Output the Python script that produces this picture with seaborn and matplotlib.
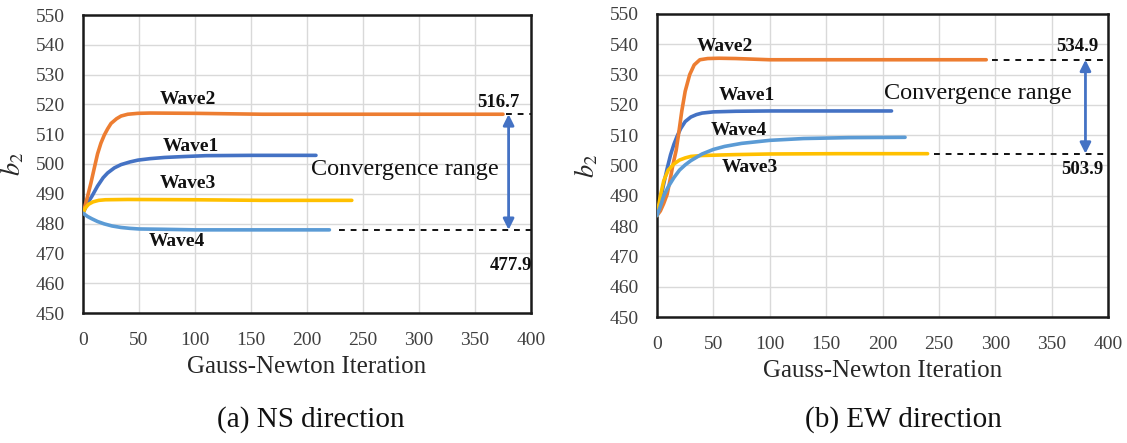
import numpy as np
import pandas as pd
import matplotlib
matplotlib.use("Agg")
import matplotlib.pyplot as plt
import seaborn as sns

# ---------------- data ----------------
waves = ["Wave1", "Wave2", "Wave3", "Wave4"]
colors = {"Wave1": "#4472C4", "Wave2": "#ED7D31", "Wave3": "#FFC000", "Wave4": "#5B9BD5"}

# (a) NS direction
ns_w1_x = [0, 4, 8, 13, 18, 22, 28, 34, 42, 49, 60, 73, 90, 110, 150, 208]
ns_w1_y = [483.5, 486.8, 489.2, 492.6, 495.4, 497.0, 498.7, 499.8, 500.7, 501.3, 501.8, 502.2, 502.5, 502.8, 502.9, 502.9]
ns_w2_x = [0, 4, 7, 10, 13, 16, 19, 22, 25, 30, 34, 40, 49, 60, 100, 160, 250, 375]
ns_w2_y = [483.5, 489.0, 493.5, 498.5, 503.4, 507.0, 509.7, 511.8, 513.6, 515.2, 516.1, 516.7, 517.0, 517.1, 517.0, 516.7, 516.7, 516.7]
ns_w3_x = [0, 2, 5, 9, 14, 20, 40, 100, 160, 240]
ns_w3_y = [483.5, 485.2, 486.5, 487.3, 487.8, 488.0, 488.1, 488.0, 487.8, 487.8]
ns_w4_x = [0, 4, 8, 13, 19, 26, 34, 42, 50, 70, 100, 150, 220]
ns_w4_y = [483.5, 482.4, 481.6, 480.7, 479.9, 479.2, 478.7, 478.4, 478.2, 478.1, 477.9, 477.9, 477.9]

# (b) EW direction
ew_w1_x = [0, 3, 6, 9, 12, 15, 18, 21, 25, 30, 35, 40, 50, 70, 100, 150, 208]
ew_w1_y = [483.5, 488.5, 494.0, 499.0, 503.5, 507.0, 509.8, 512.2, 514.5, 516.0, 516.8, 517.3, 517.7, 517.9, 518.0, 518.0, 518.0]
ew_w2_x = [0, 3, 6, 9, 12, 14, 17, 19, 22, 25, 29, 33, 38, 45, 55, 70, 100, 200, 292]
ew_w2_y = [483.5, 485.0, 487.5, 490.5, 496.0, 500.0, 505.0, 510.0, 518.0, 524.5, 530.0, 533.2, 534.9, 535.3, 535.4, 535.3, 534.9, 534.9, 534.9]
ew_w3_x = [0, 3, 6, 10, 15, 20, 25, 30, 40, 50, 70, 100, 160, 240]
ew_w3_y = [483.5, 490.0, 495.0, 498.5, 500.5, 501.8, 502.5, 503.0, 503.3, 503.4, 503.6, 503.8, 503.9, 503.9]
ew_w4_x = [0, 3, 6, 10, 15, 20, 25, 30, 40, 50, 60, 75, 100, 130, 170, 220]
ew_w4_y = [483.5, 486.5, 490.0, 493.0, 496.0, 498.5, 500.2, 501.6, 503.8, 505.3, 506.3, 507.3, 508.3, 508.9, 509.2, 509.3]

ns_converge = [516.7, 477.9]
ew_converge = [534.9, 503.9]

xticks = [0, 50, 100, 150, 200, 250, 300, 350, 400]
yticks = [450, 460, 470, 480, 490, 500, 510, 520, 530, 540, 550]

def long_df(xs, ys):
    rows = []
    for w, x, y in zip(waves, xs, ys):
        rows.append(pd.DataFrame({"iter": x, "b2": y, "wave": w}))
    return pd.concat(rows, ignore_index=True)

ns_df = long_df([ns_w1_x, ns_w2_x, ns_w3_x, ns_w4_x], [ns_w1_y, ns_w2_y, ns_w3_y, ns_w4_y])
ew_df = long_df([ew_w1_x, ew_w2_x, ew_w3_x, ew_w4_x], [ew_w1_y, ew_w2_y, ew_w3_y, ew_w4_y])

# ---------------- style ----------------
sns.set_theme(style="whitegrid")
plt.rcParams["font.family"] = ["Liberation Serif", "DejaVu Serif"]
plt.rcParams["mathtext.fontset"] = "stix"

fig = plt.figure(figsize=(11.27, 4.43), dpi=100)
ax1 = fig.add_axes([83/1127, 1 - 313/443, 448/1127, 298/443])
ax2 = fig.add_axes([657/1127, 1 - 317/443, 451/1127, 303/443])

def style_axes(ax):
    ax.set_xlim(0, 400)
    ax.set_ylim(450, 550)
    ax.set_xticks(xticks)
    ax.set_yticks(yticks)
    ax.grid(True, color="#D9D9D9", linewidth=1.0)
    for s in ax.spines.values():
        s.set_color("#1a1a1a")
        s.set_linewidth(1.8)
    ax.tick_params(axis="both", length=0, labelsize=14, labelcolor="#404040")
    ax.tick_params(axis="x", pad=14)
    ax.tick_params(axis="y", pad=13)
    ax.set_xlabel("Gauss-Newton Iteration", fontsize=18, color="#262626", labelpad=5)
    ax.set_ylabel("$b_2$", fontsize=19, color="#262626", labelpad=7)
    ax.set_facecolor("white")

for ax, df in [(ax1, ns_df), (ax2, ew_df)]:
    sns.lineplot(data=df, x="iter", y="b2", hue="wave", palette=colors,
                 linewidth=2.6, ax=ax, legend=False, sort=False,
                 estimator=None, units="wave", zorder=3)
    style_axes(ax)

wave_font = dict(fontsize=14, fontweight="bold", color="#111111", ha="center", va="center")
val_font = dict(fontsize=13.5, fontweight="bold", color="#111111", ha="center", va="center")
arrow_color = "#4472C4"

# ----- panel (a) annotations -----
ax1.text(94, 521.5, "Wave2", **wave_font)
ax1.text(96, 506.0, "Wave1", **wave_font)
ax1.text(94, 493.6, "Wave3", **wave_font)
ax1.text(84, 474.0, "Wave4", **wave_font)
ax1.plot([378, 400], [ns_converge[0]] * 2, ls=(0, (3, 3)), color="#111111", lw=1.4, zorder=2)
ax1.plot([229, 400], [ns_converge[1]] * 2, ls=(0, (3, 3)), color="#111111", lw=1.4, zorder=2)
ax1.annotate("", xy=(380, ns_converge[0]), xytext=(380, ns_converge[1]),
             arrowprops=dict(arrowstyle="<|-|>", color=arrow_color, lw=2.0, mutation_scale=16,
                             shrinkA=0, shrinkB=0), zorder=4)
ax1.text(371, 520.6, f"{ns_converge[0]}", **val_font)
ax1.text(382, 466.0, f"{ns_converge[1]}", **val_font)
ax1.text(287.5, 498.0, "Convergence range", fontsize=17.5, color="#111111", ha="center", va="center")

# ----- panel (b) annotations -----
ax2.text(60, 539.4, "Wave2", **wave_font)
ax2.text(80, 523.0, "Wave1", **wave_font)
ax2.text(73, 511.7, "Wave4", **wave_font)
ax2.text(82.5, 499.5, "Wave3", **wave_font)
ax2.plot([297, 400], [ew_converge[0]] * 2, ls=(0, (3, 3)), color="#111111", lw=1.4, zorder=2)
ax2.plot([246, 400], [ew_converge[1]] * 2, ls=(0, (3, 3)), color="#111111", lw=1.4, zorder=2)
ax2.annotate("", xy=(380, ew_converge[0]), xytext=(380, ew_converge[1]),
             arrowprops=dict(arrowstyle="<|-|>", color=arrow_color, lw=2.0, mutation_scale=16,
                             shrinkA=0, shrinkB=0), zorder=4)
ax2.text(373, 539.4, f"{ew_converge[0]}", **val_font)
ax2.text(377, 498.7, f"{ew_converge[1]}", **val_font)
ax2.text(285, 523.8, "Convergence range", fontsize=17.5, color="#111111", ha="center", va="center")

# captions
fig.text(311/1127, 1 - 420/443, "(a) NS direction", fontsize=21, color="#111111", ha="center", va="center")
fig.text(903/1127, 1 - 420/443, "(b) EW direction", fontsize=21, color="#111111", ha="center", va="center")

fig.savefig("out.png", dpi=100, facecolor="white")
